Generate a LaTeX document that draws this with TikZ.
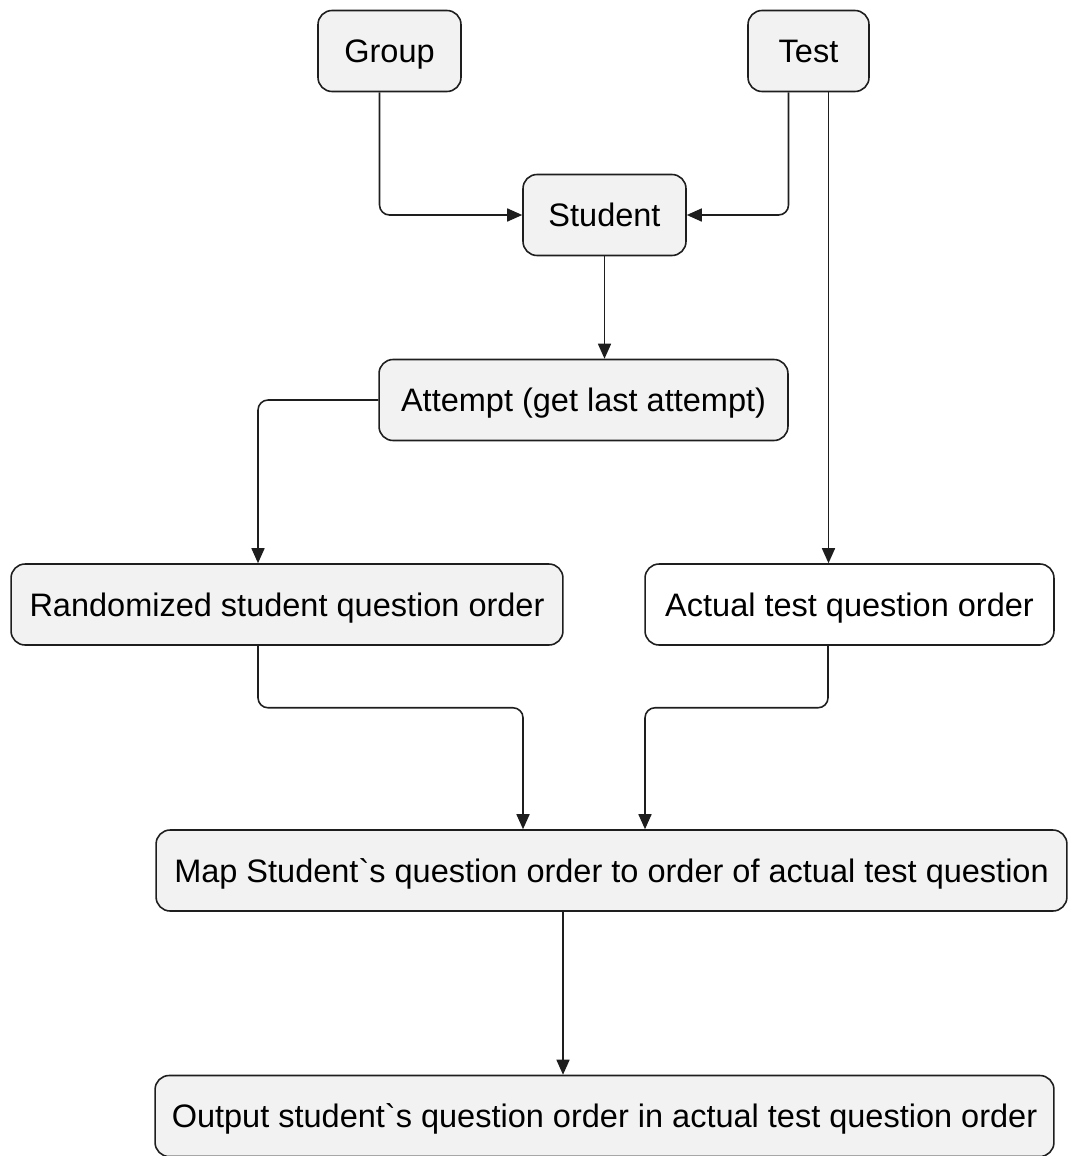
\documentclass[tikz,border=0pt]{standalone}
\usepackage{fontspec}
\setmainfont{Liberation Sans}
\usepackage{tikz}
\usetikzlibrary{arrows.meta,positioning,calc}
\definecolor{BoxGrey}{RGB}{242,242,242}
\definecolor{LineGrey}{RGB}{30,30,30}

\begin{document}
\begin{tikzpicture}[x=0.02cm,y=-0.02cm,
    box/.style={draw=LineGrey,line width=0.9pt,rounded corners=0.28cm,fill=BoxGrey,
      minimum height=1.62cm,inner sep=0pt,text height=13.2pt,text depth=0pt,
      font=\fontsize{18.5}{22}\selectfont},
    wbox/.style={box,fill=white},
    arr/.style={draw=LineGrey,line width=0.9pt,rounded corners=0.2cm,
      -{Triangle[length=0.3cm,width=0.26cm]}}]
  \useasboundingbox (0,0) rectangle (1068,1156);
  % top row
  \node[box,minimum width=2.86cm] (group) at (389.5,51) {Group};
  \node[box,minimum width=2.42cm] (test) at (808.5,51) {Test};
  \node[box,minimum width=3.26cm] (student) at (604.5,215) {Student};
  \node[box,minimum width=8.18cm] (attempt) at (583.5,400) {Attempt (get last attempt)};
  % the two orders
  \node[box,minimum width=11.04cm] (randorder) at (287,604.5) {Randomized student question order};
  \node[wbox,minimum width=8.18cm] (actualorder) at (849.5,604.5) {Actual test question order};
  % mapping and output
  \node[box,minimum width=18.22cm] (mapping) at (611.5,870.5) {Map Student\textasciigrave s question order to order of actual test question};
  \node[box,minimum width=17.98cm] (output) at (604.5,1116) {Output student\textasciigrave s question order in actual test question order};
  % connectors
  \draw[arr] ([xshift=-0.2cm]group.south) |- (student.west);
  \draw[arr] ([xshift=-0.4cm]test.south) |- (student.east);
  \draw[arr] ([xshift=0.4cm]test.south) -- ([xshift=0.4cm]test.south |- actualorder.north);
  \draw[arr] (student.south) -- (student.south |- attempt.north);
  \draw[arr] (attempt.west) -| ([xshift=-0.58cm]randorder.north);
  \draw[arr] ([xshift=-0.58cm]randorder.south) -- ++(0,-1.24cm) -| ([xshift=-1.77cm]mapping.north);
  \draw[arr] ([xshift=-0.43cm]actualorder.south) -- ++(0,-1.24cm) -| ([xshift=0.67cm]mapping.north);
  \draw[arr] ([xshift=-0.97cm]mapping.south) -- ([xshift=-0.97cm]mapping.south |- output.north);
\end{tikzpicture}
\end{document}
